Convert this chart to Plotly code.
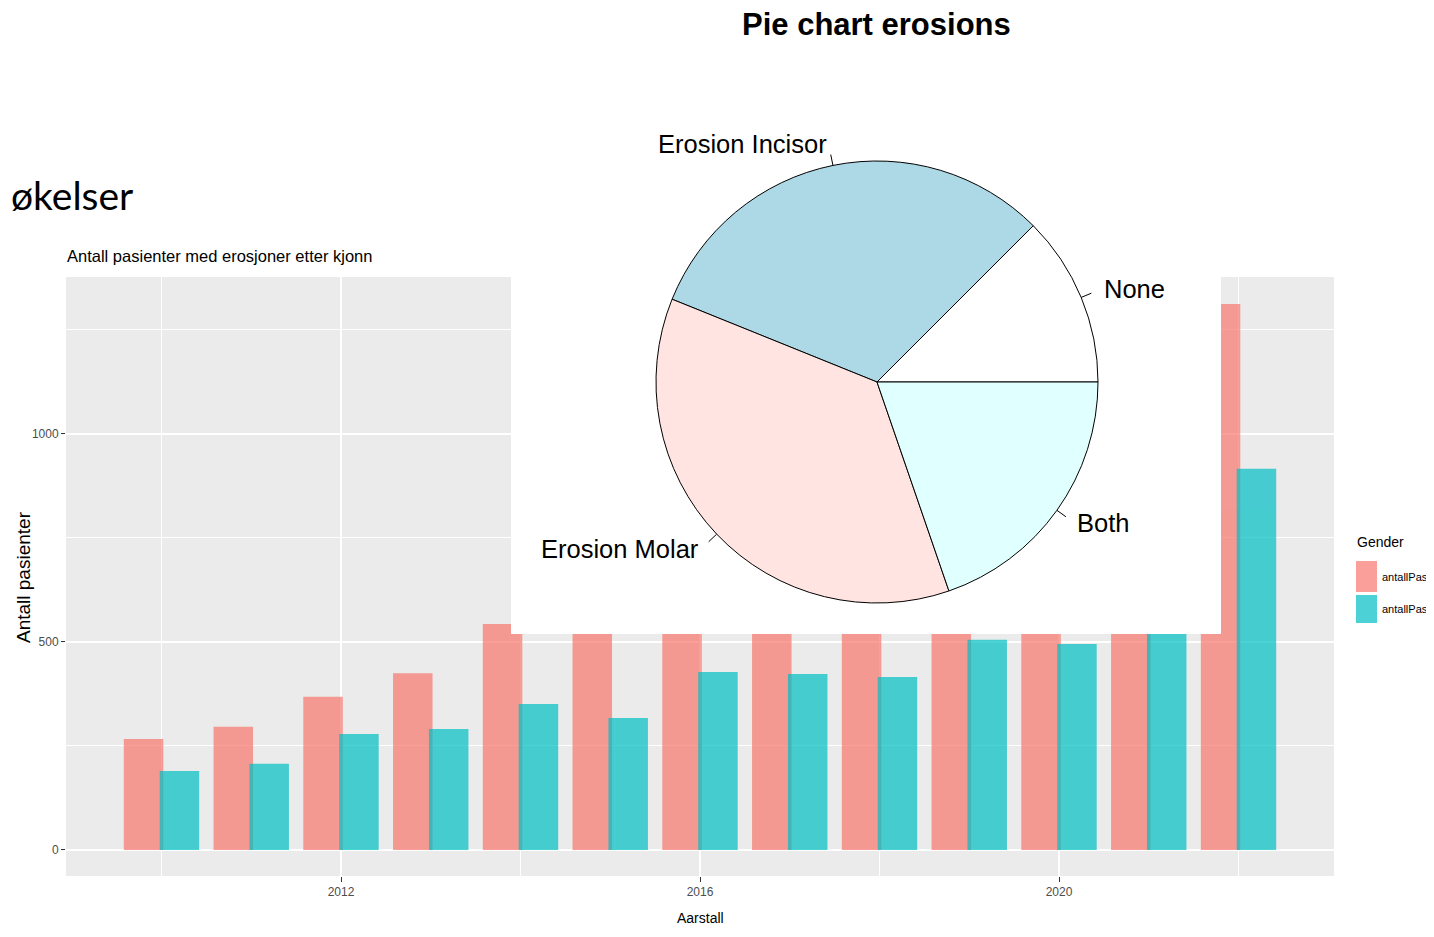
import math
import plotly.graph_objects as go

# ---------------- data ----------------
years = [2010, 2011, 2012, 2013, 2014, 2015, 2016, 2017, 2018, 2019, 2020, 2021, 2022]
antall_pink = [267, 296, 368, 425, 543, 560, 640, 645, 625, 740, 730, 800, 1312]
antall_teal = [190, 207, 279, 291, 351, 317, 428, 423, 416, 505, 495, 560, 916]
legend_labels = ["antallPas", "antallPas"]
legend_title = "Gender"

pie_labels = ["None", "Erosion Incisor", "Erosion Molar", "Both"]
pie_values = [45, 113, 131, 71]
pie_colors = ["white", "lightblue", "mistyrose", "lightcyan"]

x_ticks = [2012, 2016, 2020]
y_ticks = [0, 500, 1000]

# ---------------- layout helpers ----------------
OX, OY = 8, 8            # page body margin
W, H = 1418, 921
def px(x):
    return (x - OX) / W
def py(y):
    return 1 - (y - OY) / H

ARIAL = "Liberation Sans, Arial"

xrange_ = [2008.936, 2023.064]
yrange_ = [-62.5, 1377]
xdom = [px(66), px(1334)]
ydom = [py(876), py(277)]

def data_x(pix):
    return xrange_[0] + (pix - 66) / (1334 - 66) * (xrange_[1] - xrange_[0])
def data_y(pix):
    return yrange_[1] - (pix - 277) / (876 - 277) * (yrange_[1] - yrange_[0])

pink = "#F8766D"
teal = "#00BFC4"

fig = go.Figure()

fig.add_trace(go.Bar(
    x=years, y=antall_pink, name=legend_labels[0], showlegend=False,
    marker=dict(color=pink, line=dict(width=0)), opacity=0.7,
    width=0.44, offset=-0.42, hoverinfo="x+y",
))
fig.add_trace(go.Bar(
    x=years, y=antall_teal, name=legend_labels[1], showlegend=False,
    marker=dict(color=teal, line=dict(width=0)), opacity=0.7,
    width=0.44, offset=-0.02, hoverinfo="x+y",
))

# white panel behind pie (covers bars, sits below pie layer)
x0, x1 = data_x(511), data_x(1221)
y0, y1 = data_y(634), yrange_[1] + 50
fig.add_trace(go.Scatter(
    x=[x0, x1, x1, x0, x0], y=[y0, y0, y1, y1, y0],
    fill="toself", fillcolor="white", mode="lines",
    line=dict(width=0, color="white"), showlegend=False, hoverinfo="skip",
))

# pie (R-style: first slice starts at 3 o'clock, counterclockwise)
total = sum(pie_values)
cx, cy, r = 877, 382, 221
fig.add_trace(go.Pie(
    labels=pie_labels, values=pie_values, sort=False,
    direction="counterclockwise", rotation=90 - 360 * pie_values[0] / total,
    marker=dict(colors=pie_colors, line=dict(color="black", width=1)),
    textinfo="none", showlegend=False,
    domain=dict(x=[px(cx - r), px(cx + r)], y=[py(cy + r), py(cy - r)]),
))

annotations = []
shapes = []
cum = 0
for lab, v in zip(pie_labels, pie_values):
    mid = (cum + v / 2) / total * 2 * math.pi
    cum += v
    c, s = math.cos(mid), math.sin(mid)
    shapes.append(dict(type="line", xref="paper", yref="paper",
                       x0=px(cx + r * c), y0=py(cy - r * s),
                       x1=px(cx + 1.05 * r * c), y1=py(cy - 1.05 * r * s),
                       line=dict(color="black", width=1)))
    annotations.append(dict(
        text=lab, xref="paper", yref="paper", showarrow=False,
        x=px(cx + 1.1 * r * c), y=py(cy - 1.1 * r * s),
        xanchor="left" if c > 0 else "right", yanchor="middle",
        font=dict(family=ARIAL, size=25.5, color="black")))

# manual ggplot-style legend
keys = [(561, 592, pink), (595, 623, teal)]
for (ya, yb, col), lab in zip(keys, legend_labels):
    shapes.append(dict(type="rect", xref="paper", yref="paper",
                       x0=px(1356), x1=px(1377), y0=py(yb), y1=py(ya),
                       fillcolor=col, opacity=0.7, line=dict(width=0)))
    annotations.append(dict(text=lab, xref="paper", yref="paper", showarrow=False,
                            x=px(1380), y=py((ya + yb) / 2), xanchor="left", yanchor="middle",
                            font=dict(family=ARIAL, size=11, color="black")))
annotations.append(dict(text=legend_title, xref="paper", yref="paper", showarrow=False,
                        x=px(1355), y=py(542), xanchor="left", yanchor="middle",
                        font=dict(family=ARIAL, size=14, color="black")))

annotations += [
    dict(text="<b>Pie chart erosions</b>", xref="paper", yref="paper", showarrow=False,
         x=px(876), y=py(24), xanchor="center", yanchor="middle",
         font=dict(family=ARIAL, size=31, color="black")),
    dict(text="økelser", xref="paper", yref="paper", showarrow=False,
         x=px(9), y=py(195), xanchor="left", yanchor="middle",
         font=dict(family="Lato, Carlito, Liberation Sans", size=39, color="black")),
    dict(text="Antall pasienter med erosjoner etter kjonn", xref="paper", yref="paper",
         showarrow=False, x=px(65), y=py(256), xanchor="left", yanchor="middle",
         font=dict(family=ARIAL, size=16.5, color="black")),
    dict(text="Antall pasienter", xref="paper", yref="paper", showarrow=False,
         x=px(23), y=py(577), xanchor="center", yanchor="middle", textangle=-90,
         font=dict(family=ARIAL, size=19, color="black")),
    dict(text="Aarstall", xref="paper", yref="paper", showarrow=False,
         x=px(700), y=py(918), xanchor="center", yanchor="middle",
         font=dict(family=ARIAL, size=14, color="black")),
]

fig.update_layout(
    width=W, height=H,
    margin=dict(l=0, r=0, t=0, b=0),
    paper_bgcolor="white", plot_bgcolor="#EBEBEB",
    barmode="overlay",
    showlegend=False,
    xaxis=dict(
        domain=xdom, range=xrange_, tickmode="array", tickvals=x_ticks,
        ticktext=[str(t) for t in x_ticks],
        showgrid=True, gridcolor="white", gridwidth=1.6, zeroline=False,
        ticks="outside", ticklen=5, tickcolor="#333333", tickwidth=1,
        tickfont=dict(family=ARIAL, size=12, color="#4D4D4D"),
        minor=dict(tickmode="array", tickvals=[2010, 2014, 2018, 2022],
                   showgrid=True, gridcolor="white", gridwidth=0.8, ticks=""),
        showline=False, fixedrange=True,
    ),
    yaxis=dict(
        domain=ydom, range=yrange_, tickmode="array", tickvals=y_ticks,
        ticktext=[str(t) for t in y_ticks],
        showgrid=True, gridcolor="white", gridwidth=1.6, zeroline=False,
        ticks="outside", ticklen=4, tickcolor="#333333", tickwidth=1,
        tickfont=dict(family=ARIAL, size=12, color="#4D4D4D"),
        minor=dict(tickmode="array", tickvals=[250, 750, 1250],
                   showgrid=True, gridcolor="white", gridwidth=0.8, ticks=""),
        showline=False, fixedrange=True,
    ),
    annotations=annotations,
    shapes=shapes,
)

fig.write_html("out.html")
